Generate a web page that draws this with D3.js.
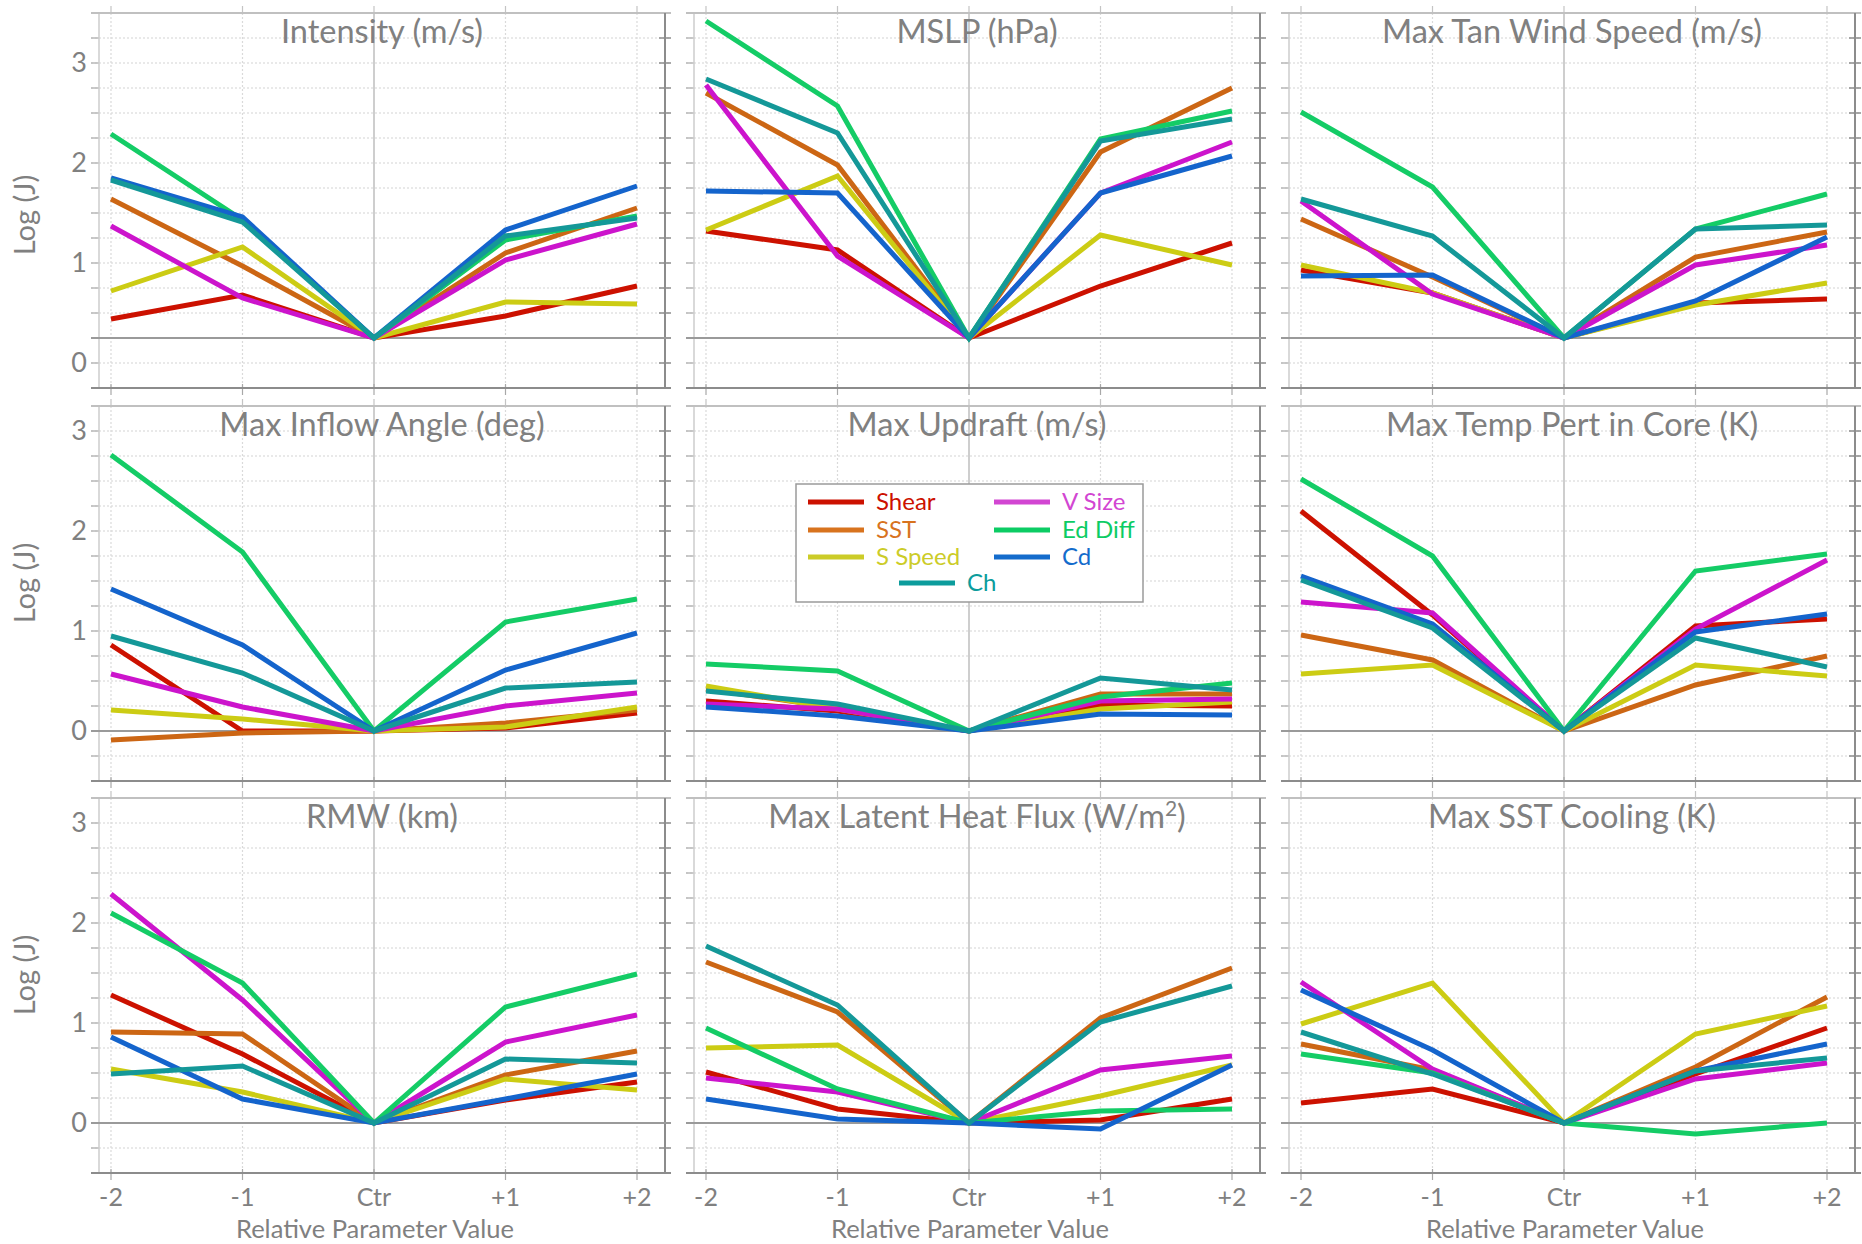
<!DOCTYPE html>
<html><head><meta charset="utf-8">
<script src="https://cdn.jsdelivr.net/npm/d3@7"></script>
<style>
body{margin:0;background:#fff}
svg{display:block}
text{font-family:Lato,"Open Sans",sans-serif;fill:#808080}
</style>
</head><body>
<svg id="chart" width="1862" height="1244"></svg>
<script>
// ---------- data ----------
const categories = ["-2", "-1", "Ctr", "+1", "+2"];
const seriesNames = ["Shear", "SST", "S Speed", "V Size", "Ed Diff", "Cd", "Ch"];
const lineColors = ["#cc1100", "#cc6614", "#cccc14", "#cc14cc", "#14cc66", "#1464cc", "#149898"];
const legendColors = ["#cc1100", "#d8731e", "#cccc28", "#d246d2", "#0ccc64", "#146ccc", "#0c9c9c"];
const panelTitles = ["Intensity (m/s)", "MSLP (hPa)", "Max Tan Wind Speed (m/s)",
  "Max Inflow Angle (deg)", "Max Updraft (m/s)", "Max Temp Pert in Core (K)",
  "RMW (km)", "Max Latent Heat Flux (W/m", "Max SST Cooling (K)"];
const yTickValues = [0, 1, 2, 3];
const yAxisTitle = "Log (J)";
const xAxisTitle = "Relative Parameter Value";

// series rows in order: Shear, SST, S Speed, V Size, Ed Diff, Cd, Ch
const intensity = [
  [0.44, 0.68, 0.25, 0.47, 0.77],
  [1.64, 0.97, 0.25, 1.10, 1.55],
  [0.72, 1.16, 0.25, 0.61, 0.59],
  [1.37, 0.65, 0.25, 1.03, 1.39],
  [2.29, 1.43, 0.25, 1.23, 1.47],
  [1.85, 1.46, 0.25, 1.33, 1.77],
  [1.83, 1.41, 0.25, 1.27, 1.45]];
const mslp = [
  [1.32, 1.13, 0.25, 0.77, 1.20],
  [2.70, 1.98, 0.25, 2.11, 2.75],
  [1.33, 1.87, 0.25, 1.28, 0.98],
  [2.78, 1.07, 0.25, 1.70, 2.21],
  [3.42, 2.57, 0.25, 2.24, 2.52],
  [1.72, 1.70, 0.25, 1.70, 2.07],
  [2.84, 2.30, 0.25, 2.22, 2.44]];
const maxTanWind = [
  [0.93, 0.70, 0.25, 0.60, 0.64],
  [1.44, 0.86, 0.25, 1.06, 1.31],
  [0.98, 0.70, 0.25, 0.58, 0.80],
  [1.62, 0.69, 0.25, 0.98, 1.18],
  [2.51, 1.76, 0.25, 1.34, 1.69],
  [0.87, 0.88, 0.25, 0.62, 1.26],
  [1.64, 1.27, 0.25, 1.34, 1.38]];
const maxInflow = [
  [0.86, 0.00, 0, 0.03, 0.18],
  [-0.09, -0.02, 0, 0.08, 0.21],
  [0.21, 0.12, 0, 0.04, 0.24],
  [0.57, 0.24, 0, 0.25, 0.38],
  [2.76, 1.79, 0, 1.09, 1.32],
  [1.42, 0.86, 0, 0.61, 0.98],
  [0.95, 0.58, 0, 0.43, 0.49]];
const maxUpdraft = [
  [0.30, 0.20, 0, 0.26, 0.25],
  [0.42, 0.23, 0, 0.37, 0.37],
  [0.45, 0.22, 0, 0.22, 0.29],
  [0.27, 0.22, 0, 0.30, 0.32],
  [0.67, 0.60, 0, 0.34, 0.48],
  [0.24, 0.15, 0, 0.17, 0.16],
  [0.40, 0.27, 0, 0.53, 0.41]];
const maxTempPert = [
  [2.20, 1.16, 0, 1.05, 1.12],
  [0.96, 0.71, 0, 0.46, 0.75],
  [0.57, 0.66, 0, 0.66, 0.55],
  [1.29, 1.18, 0, 1.02, 1.71],
  [2.52, 1.75, 0, 1.60, 1.77],
  [1.55, 1.07, 0, 0.99, 1.17],
  [1.51, 1.03, 0, 0.93, 0.64]];
const rmw = [
  [1.28, 0.69, 0, 0.23, 0.41],
  [0.91, 0.89, 0, 0.48, 0.72],
  [0.54, 0.31, 0, 0.44, 0.33],
  [2.29, 1.23, 0, 0.81, 1.08],
  [2.10, 1.40, 0, 1.16, 1.49],
  [0.86, 0.24, 0, 0.24, 0.49],
  [0.49, 0.57, 0, 0.64, 0.60]];
const latentHeat = [
  [0.51, 0.14, 0, 0.03, 0.24],
  [1.61, 1.11, 0, 1.05, 1.55],
  [0.75, 0.78, 0, 0.27, 0.58],
  [0.45, 0.31, 0, 0.53, 0.67],
  [0.95, 0.34, 0, 0.12, 0.14],
  [0.24, 0.04, 0, -0.06, 0.58],
  [1.77, 1.18, 0, 1.01, 1.37]];
const sstCooling = [
  [0.20, 0.34, 0, 0.49, 0.95],
  [0.79, 0.53, 0, 0.56, 1.26],
  [0.99, 1.40, 0, 0.89, 1.17],
  [1.41, 0.54, 0, 0.44, 0.60],
  [0.69, 0.50, 0, -0.11, 0.00],
  [1.33, 0.73, 0, 0.52, 0.79],
  [0.91, 0.49, 0, 0.52, 0.65]];
const panelData = [intensity, mslp, maxTanWind, maxInflow, maxUpdraft, maxTempPert, rmw, latentHeat, sstCooling];
// y-range per row (top row tick labels are offset by 0.25 in the original)
const rowDomains = [[-0.25, 3.5], [-0.5, 3.25], [-0.5, 3.25]];

// ---------- layout ----------
const colLeft = [99, 694, 1289];
const panelW = 566;
const rowTop = [13, 406, 798];
const panelH = 375;

const svg = d3.select("#chart");

panelData.forEach((data, p) => {
  const row = Math.floor(p / 3), col = p % 3;
  const L = colLeft[col], R = L + panelW, T = rowTop[row], B = T + panelH;
  const x = d3.scalePoint().domain(categories).range([L + 12, R - 28]);
  const dom = rowDomains[row];
  const y = d3.scaleLinear().domain(dom).range([B, T]);
  const refLevel = data[0][2];
  const g = svg.append("g");

  const gridVals = d3.range(Math.round((dom[1] - dom[0]) / 0.25) + 1).map(i => dom[0] + i * 0.25);
  // horizontal dotted grid
  g.selectAll("line.hg").data(gridVals.slice(1, -1)).join("line")
    .attr("x1", L - 8).attr("x2", R + 6)
    .attr("y1", d => y(d)).attr("y2", d => y(d))
    .attr("stroke", "#d4d4d4").attr("stroke-width", 1.2).attr("stroke-dasharray", "2,2");
  // left & right tick marks
  g.selectAll("line.lt").data(gridVals).join("line")
    .attr("x1", L - 8).attr("x2", L).attr("y1", d => y(d)).attr("y2", d => y(d))
    .attr("stroke", "#b8b8b8").attr("stroke-width", 1.5);
  g.selectAll("line.rt").data(gridVals).join("line")
    .attr("x1", R - 6).attr("x2", R + 6).attr("y1", d => y(d)).attr("y2", d => y(d))
    .attr("stroke", "#8c8c8c").attr("stroke-width", 1.5);
  // vertical grid
  g.selectAll("line.vg").data(categories).join("line")
    .attr("x1", d => x(d)).attr("x2", d => x(d))
    .attr("y1", T).attr("y2", B)
    .attr("stroke", d => d === "Ctr" ? "#b4b4b4" : "#dadada")
    .attr("stroke-width", d => d === "Ctr" ? 1.3 : 1.2)
    .attr("stroke-dasharray", d => d === "Ctr" ? null : "2,2");
  // category ticks top and bottom
  g.selectAll("line.tt").data(categories).join("line")
    .attr("x1", d => x(d)).attr("x2", d => x(d)).attr("y1", T - 7).attr("y2", T)
    .attr("stroke", "#c4c4c4").attr("stroke-width", 1.2);
  g.selectAll("line.bt").data(categories).join("line")
    .attr("x1", d => x(d)).attr("x2", d => x(d)).attr("y1", B - 4).attr("y2", B + 7)
    .attr("stroke", "#a8a8a8").attr("stroke-width", 1.2);
  // frame
  g.append("line").attr("x1", L).attr("x2", L).attr("y1", T).attr("y2", B)
    .attr("stroke", "#cccccc").attr("stroke-width", 1.5);
  g.append("line").attr("x1", L - 8).attr("x2", R + 6).attr("y1", T).attr("y2", T)
    .attr("stroke", "#c0c0c0").attr("stroke-width", 2);
  g.append("line").attr("x1", L - 8).attr("x2", R + 6).attr("y1", B).attr("y2", B)
    .attr("stroke", "#8c8c8c").attr("stroke-width", 2);
  g.append("line").attr("x1", R).attr("x2", R).attr("y1", T).attr("y2", B)
    .attr("stroke", "#8c8c8c").attr("stroke-width", 2);
  // reference line at centre value
  g.append("line").attr("x1", L - 8).attr("x2", R + 6)
    .attr("y1", y(refLevel)).attr("y2", y(refLevel))
    .attr("stroke", "#9a9a9a").attr("stroke-width", 2);

  // title
  const t = g.append("text").attr("x", (L + R) / 2).attr("y", T + 30)
    .attr("text-anchor", "middle").attr("font-size", 32.5).text(panelTitles[p]);
  if (p === 7) {
    t.append("tspan").attr("font-size", 21).attr("dy", -12).text("2");
    t.append("tspan").attr("dy", 12).text(")");
  }

  // series lines
  const line = d3.line().x((d, i) => x(categories[i])).y(d => y(d));
  g.selectAll("path.s").data(data).join("path")
    .attr("d", d => line(d))
    .attr("fill", "none")
    .attr("stroke", (d, i) => lineColors[i])
    .attr("stroke-width", 5)
    .attr("stroke-linejoin", "miter").attr("stroke-miterlimit", 2);

  // y axis labels on first column
  if (col === 0) {
    g.selectAll("text.yt").data(yTickValues).join("text")
      .attr("x", L - 12).attr("y", d => y(d) + 9)
      .attr("text-anchor", "end").attr("font-size", 27).text(d => d);
    g.append("text")
      .attr("transform", `translate(${L - 73},${y(1.48)}) rotate(-90)`)
      .attr("text-anchor", "middle").attr("dy", 9).attr("font-size", 29).text(yAxisTitle);
  }
  // x axis labels on last row
  if (row === 2) {
    g.selectAll("text.xt").data(categories).join("text")
      .attr("x", d => x(d)).attr("y", B + 33)
      .attr("text-anchor", "middle").attr("font-size", 25).text(d => d);
    g.append("text").attr("x", (L + R) / 2 - 7).attr("y", B + 65)
      .attr("text-anchor", "middle").attr("font-size", 25.5).text(xAxisTitle);
  }
});

// ---------- legend ----------
const lg = svg.append("g");
lg.append("rect").attr("x", 796).attr("y", 484).attr("width", 347).attr("height", 118)
  .attr("fill", "#fff").attr("stroke", "#9a9a9a").attr("stroke-width", 1.5);
const legendPos = [
  [808, 502], [808, 530], [808, 557],
  [994, 502], [994, 530], [994, 557],
  [899, 583]];
seriesNames.forEach((name, i) => {
  const [lx, ly] = legendPos[i];
  lg.append("line").attr("x1", lx).attr("x2", lx + 56).attr("y1", ly).attr("y2", ly)
    .attr("stroke", legendColors[i]).attr("stroke-width", 5);
  lg.append("text").attr("x", lx + 68).attr("y", ly + 8).attr("font-size", 24)
    .style("fill", legendColors[i]).text(name);
});
</script>
</body></html>
